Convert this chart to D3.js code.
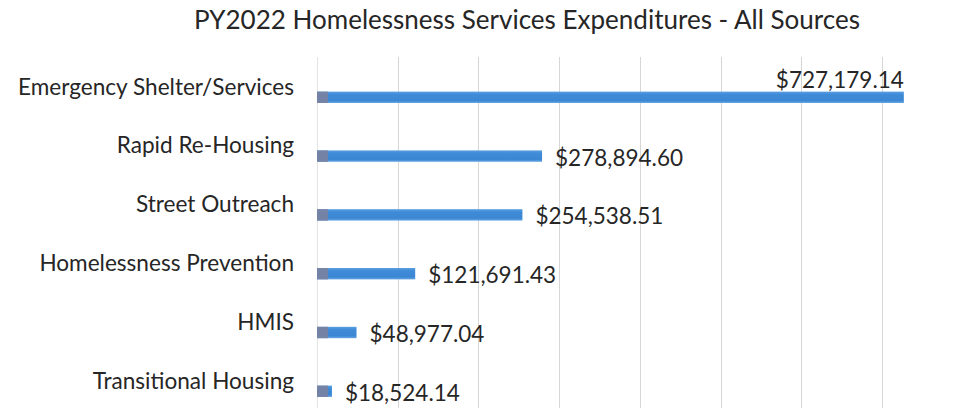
<!DOCTYPE html>
<html>
<head>
<meta charset="utf-8">
<script src="https://cdn.jsdelivr.net/npm/d3@7"></script>
<style>
  html, body { margin: 0; padding: 0; background: #ffffff; }
  svg { display: block; }
  text { font-family: Lato, "Open Sans", sans-serif; fill: #262626; }
</style>
</head>
<body>
<svg id="chart" width="959" height="408"></svg>
<script>
// Program year 2022 homelessness services spending, all funding sources
const categories = [
  "Emergency Shelter/Services",
  "Rapid Re-Housing",
  "Street Outreach",
  "Homelessness Prevention",
  "HMIS",
  "Transitional Housing"
];
const expenditures = [727179.14, 278894.60, 254538.51, 121691.43, 48977.04, 18524.14];
const tickValues = [0, 100000, 200000, 300000, 400000, 500000, 600000, 700000, 800000];
const chartTitle = "PY2022 Homelessness Services Expenditures - All Sources";

const svg = d3.select("#chart");
const W = 959, H = 408;

const x = d3.scaleLinear().domain([0, 800000]).range([317, 962.6]);
const y = d3.scaleBand().domain(categories).range([56.6, 409.4]).padding(0);

const money = v => "$" + d3.format(",.2f")(v);

// scale a text node's font so it spans the given width
function fitWidth(sel, target, base) {
  sel.style("font-size", base + "px");
  const w = sel.node().getComputedTextLength();
  sel.style("font-size", (base * target / w).toFixed(2) + "px");
}

// vertical gridlines
svg.append("g").attr("class", "grid")
  .selectAll("line").data(tickValues).join("line")
  .attr("x1", d => Math.round(x(d)) + 0.5)
  .attr("x2", d => Math.round(x(d)) + 0.5)
  .attr("y1", 57).attr("y2", H)
  .attr("stroke", d => d === 0 ? "#e4e4e4" : "#d6d6d6")
  .attr("stroke-width", 1);

// title
const title = svg.append("text")
  .attr("x", 527).attr("y", 29)
  .attr("text-anchor", "middle")
  .attr("fill", "#2b2b2b")
  .text(chartTitle);
fitWidth(title, 666, 22);

// category labels, right aligned against the plot
const catG = svg.append("g");
const cats = catG.selectAll("text").data(categories).join("text")
  .attr("x", 294)
  .attr("y", d => y(d) + y.bandwidth() / 2)
  .attr("text-anchor", "end")
  .attr("dominant-baseline", "central")
  .text(d => d);
// size all labels from the longest one
const longest = cats.filter((d, i) => i === 0);
fitWidth(longest, 276, 20);
cats.style("font-size", longest.style("font-size"));

// bars
const barOffset = 5.6, barH = 11.4;
const rows = categories.map((c, i) => ({ cat: c, val: expenditures[i] }));

const defs = svg.append("defs");
const grad = defs.append("linearGradient").attr("id", "barFill")
  .attr("x1", 0).attr("y1", 0).attr("x2", 0).attr("y2", 1);
grad.append("stop").attr("offset", "0%").attr("stop-color", "#5a9fe0");
grad.append("stop").attr("offset", "25%").attr("stop-color", "#3f8bd8");
grad.append("stop").attr("offset", "80%").attr("stop-color", "#3c87d4");
grad.append("stop").attr("offset", "100%").attr("stop-color", "#6aa8e3");

const barG = svg.append("g");
barG.selectAll("rect.bar").data(rows).join("rect")
  .attr("class", "bar")
  .attr("x", x(0))
  .attr("y", d => y(d.cat) + y.bandwidth() / 2 + barOffset)
  .attr("width", d => x(d.val) - x(0))
  .attr("height", barH)
  .attr("fill", "url(#barFill)");

// darker cap at the base of each bar
barG.selectAll("rect.cap").data(rows).join("rect")
  .attr("class", "cap")
  .attr("x", x(0))
  .attr("y", d => y(d.cat) + y.bandwidth() / 2 + barOffset)
  .attr("width", d => Math.min(11, x(d.val) - x(0)))
  .attr("height", barH)
  .attr("fill", "#7a82a0")
  .attr("opacity", 0.9);

// value labels
const valG = svg.append("g");
const vals = valG.selectAll("text").data(rows).join("text")
  .text(d => money(d.val))
  .each(function (d, i) {
    const t = d3.select(this);
    const barTop = y(d.cat) + y.bandwidth() / 2 + barOffset;
    if (i === 0) {
      // largest bar: label sits above its end
      t.attr("x", x(d.val)).attr("y", barTop - 4).attr("text-anchor", "end");
    } else {
      t.attr("x", x(d.val) + 13).attr("y", barTop + barH / 2 + 1)
        .attr("dominant-baseline", "central");
    }
  });
const firstVal = vals.filter((d, i) => i === 0);
fitWidth(firstVal, 128, 20);
vals.style("font-size", firstVal.style("font-size"));
</script>
</body>
</html>
